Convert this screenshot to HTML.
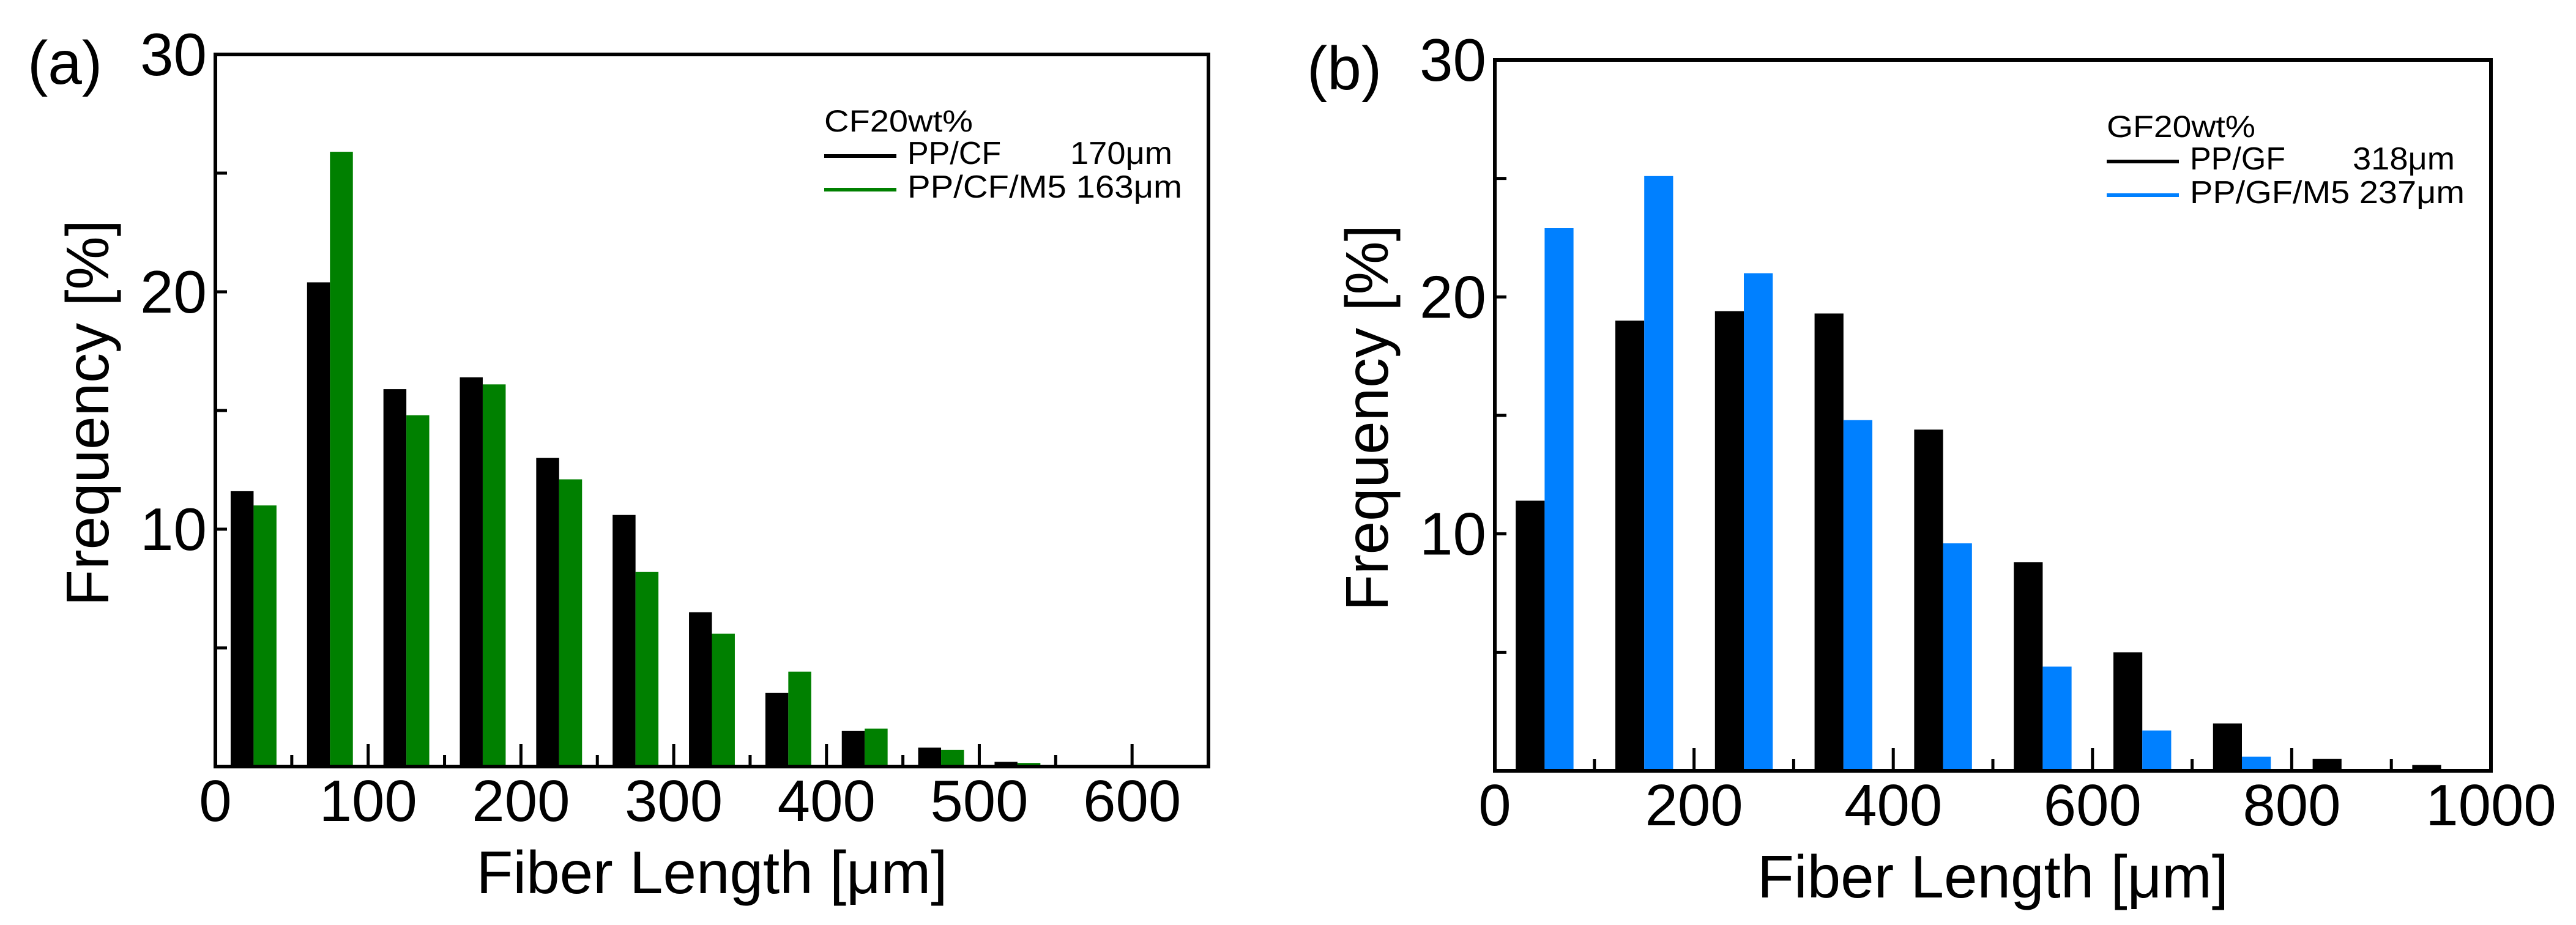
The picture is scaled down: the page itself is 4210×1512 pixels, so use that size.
<!DOCTYPE html>
<html><head><meta charset="utf-8"><style>
html,body{margin:0;padding:0;background:#fff;}
svg{display:block;font-family:"Liberation Sans",Arial,sans-serif;}
</style></head><body>
<svg id="fig" width="4210" height="1512" viewBox="0 0 4210 1512" xmlns="http://www.w3.org/2000/svg"></svg>
<script>
// Panel (a) data
const binsA = [25,75,125,175,225,275,325,375,425,475,525];
const ppCF = [11.6,20.4,15.9,16.4,13.0,10.6,6.5,3.1,1.5,0.8,0.2];
const ppCFM5 = [11.0,25.9,14.8,16.1,12.1,8.2,5.6,4.0,1.6,0.7,0.15];
const xTicksA = [0,100,200,300,400,500,600];
// Panel (b) data
const binsB = [50,150,250,350,450,550,650,750,850,950];
const ppGF = [11.4,19.0,19.4,19.3,14.4,8.8,5.0,2.0,0.5,0.25];
const ppGFM5 = [22.9,25.1,21.0,14.8,9.6,4.4,1.7,0.6,0,0];
const xTicksB = [0,200,400,600,800,1000];
const yTicks = [10,20,30];

const NS = "http://www.w3.org/2000/svg";
const svg = document.getElementById('fig');
function mk(tag, attrs, parent){
  const e = document.createElementNS(NS, tag);
  for (const k in attrs) e.setAttribute(k, attrs[k]);
  (parent||svg).appendChild(e);
  return e;
}

function panel(o){
  const g = mk('g', {});
  
  
  const X = v => o.left + (v - 0) / o.xmax * (o.right - o.left);
  const Y = v => o.bottom - v / 30 * (o.bottom - o.top);
  o.bins.forEach((c, i) => {
    const r1 = mk('rect', {x: X(c - o.bw), y: Y(o.s1[i]), width: X(c) - X(c - o.bw), height: o.bottom - Y(o.s1[i]), fill: '#000'}, g);
    
    
    const r2 = mk('rect', {x: X(c), y: Y(o.s2[i]), width: X(c + o.bw) - X(c), height: o.bottom - Y(o.s2[i]), fill: o.color}, g);
    
    
  });
  [5,10,15,20,25].forEach(v => {
    const t = mk('line', {x1: o.left, x2: o.left + 19, y1: Y(v), y2: Y(v), stroke: '#000', 'stroke-width': 5}, g);
    
    
  });
  for (let v = o.minor; v < o.xmax; v += o.minor) {
    const isMajor = Math.abs(v / o.major - Math.round(v / o.major)) < 1e-6;
    const t = mk('line', {x1: X(v), x2: X(v), y1: o.bottom, y2: o.bottom - (isMajor ? 37 : 19), stroke: '#000', 'stroke-width': 5}, g);
    
    
  }
  const f = mk('rect', {x: o.left, y: o.top, width: o.right - o.left, height: o.bottom - o.top, fill: 'none', stroke: '#000', 'stroke-width': 6}, g);
  
  
  yTicks.forEach(v => {
    const t = mk('text', {x: o.left - 14, y: Y(v) + 34, 'font-size': 98, 'text-anchor': 'end'}, g);
    t.textContent = v;
    
    
  });
  o.xt.forEach(v => {
    const t = mk('text', {x: X(v), y: o.bottom + 89, 'font-size': 96, 'text-anchor': 'middle'}, g);
    t.textContent = v;
    
    
  });
  const xt = mk('text', {x: (o.left + o.right) / 2, y: o.bottom + 207, 'font-size': 98, 'text-anchor': 'middle'}, g);
  xt.textContent = 'Fiber Length [\u03bcm]';
  
  
  const yt = mk('text', {x: 0, y: 0, 'font-size': 98, 'text-anchor': 'middle', transform: `translate(${o.left - 175},${(o.top + o.bottom) / 2 + 4}) rotate(-90)`}, g);
  yt.textContent = 'Frequency [%]';
  
  
  const pl = mk('text', {x: o.left - 307, y: o.top + 48, 'font-size': 100}, g);
  pl.textContent = o.label;
  
  
  const lg = mk('g', {}, g);
  
  
  const lx = o.right - 628;
  const lt = mk('text', {x: lx, y: o.top + 126, 'font-size': 50, textLength: 243, lengthAdjust: 'spacingAndGlyphs'}, lg);
  lt.textContent = o.legTitle;
  
  
  [[o.leg1, '#000', 0], [o.leg2, o.color, 55]].forEach(([txt, col, dy]) => {
    const ln = mk('line', {x1: lx, x2: lx + 118, y1: o.top + 166 + dy, y2: o.top + 166 + dy, stroke: col, 'stroke-width': 6}, lg);
    
    
  });
  const e1 = mk('text', {x: lx + 136, y: o.top + 179, 'font-size': 52}, lg);
  e1.textContent = o.leg1;
  
  
  const e1b = mk('text', {x: lx + 402, y: o.top + 179, 'font-size': 52, textLength: 167, lengthAdjust: 'spacingAndGlyphs'}, lg);
  e1b.textContent = o.len1;
  
  
  const e2 = mk('text', {x: lx + 136, y: o.top + 234, 'font-size': 52, textLength: 449, lengthAdjust: 'spacingAndGlyphs'}, lg);
  e2.textContent = o.leg2 + ' ' + o.len2;
  
  
}

panel({name: 'panel-a', label: '(a)', left: 352, right: 1975, top: 89, bottom: 1253, xmax: 650,
  bins: binsA, s1: ppCF, s2: ppCFM5, bw: 15, color: '#008000', minor: 50, major: 100, xt: xTicksA,
  s1name: 'pp-cf', s2name: 'pp-cf-m5', legTitle: 'CF20wt%', leg1: 'PP/CF', len1: '170\u03bcm', leg2: 'PP/CF/M5', len2: '163\u03bcm'});
panel({name: 'panel-b', label: '(b)', left: 2443, right: 4071, top: 98, bottom: 1260, xmax: 1000,
  bins: binsB, s1: ppGF, s2: ppGFM5, bw: 29, color: '#0080ff', minor: 100, major: 200, xt: xTicksB,
  s1name: 'pp-gf', s2name: 'pp-gf-m5', legTitle: 'GF20wt%', leg1: 'PP/GF', len1: '318\u03bcm', leg2: 'PP/GF/M5', len2: '237\u03bcm'});
</script>
</body></html>
